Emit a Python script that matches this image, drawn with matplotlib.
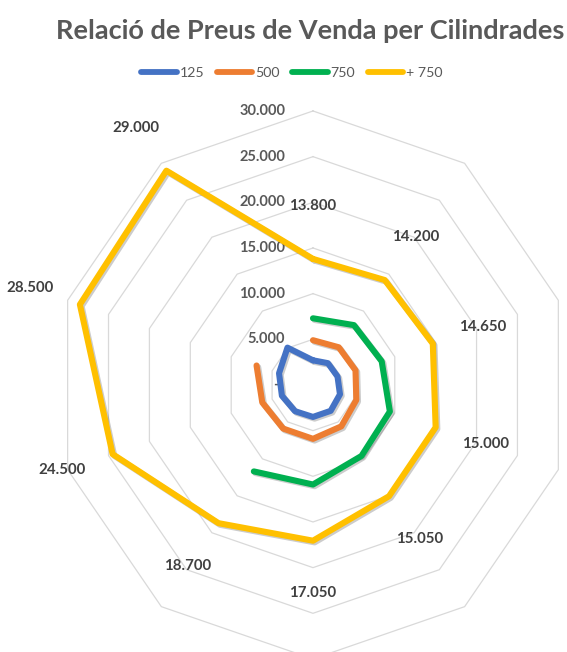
import numpy as np
import matplotlib
matplotlib.use("Agg")
import matplotlib.pyplot as plt
import matplotlib.patheffects as pe

TITLE = "Relació de Preus de Venda per Cilindrades"
SERIES = ["125", "500", "750", "+ 750"]
COLORS = ["#4472C4", "#ED7D31", "#00B050", "#FFC000"]

# ten categories, clockwise from the top
cc125 = [2700, 2950, 3000, 3300, 3500, 3500, 3550, 3800, 4150, 5050]
cc500 = [4900, 5100, 5200, 5300, 5600, 5900, 5900, 6200, 6900, np.nan]
cc750 = [7300, 8100, 8400, 9400, 9600, 10900, 11700, np.nan, np.nan, np.nan]
cc_big = [13800, 14200, 14650, 15000, 15050, 17050, 18700, 24500, 28500, 29000]

RINGS = [5000, 10000, 15000, 20000, 25000, 30000]
RING_LABELS = ["5.000", "10.000", "15.000", "20.000", "25.000", "30.000"]


def fmt(v):
    return f"{v:,.0f}".replace(",", ".")


fig = plt.figure(figsize=(5.67, 6.52), dpi=100)
ax = fig.add_axes([0.097, -0.0107, 0.910, 0.8405], projection="polar")
ax.set_aspect("auto")
ax.set_theta_zero_location("N")
ax.set_theta_direction(-1)
ax.set_ylim(0, 30000)
ax.grid(False)
ax.set_xticks([])
ax.set_yticks([])
ax.spines["polar"].set_visible(False)
ax.patch.set_alpha(0)

n = len(cc_big)
angles = np.linspace(0, 2 * np.pi, n, endpoint=False)
closed = np.append(angles, angles[0])

# decagon rings
for r in RINGS:
    ax.plot(closed, [r] * (n + 1), color="#d9d9d9", lw=0.9, zorder=1, clip_on=False)

# radial value labels on the top axis
gray = "#595959"
ax.annotate("-", (0, 0), xytext=(-25, 0), textcoords="offset points",
            ha="right", va="center", fontsize=10.5, color=gray,
            fontweight="bold", family="Lato")
for r, lab in zip(RINGS, RING_LABELS):
    ax.annotate(lab, (0, r), xytext=(-20, 0), textcoords="offset points",
                ha="right", va="center", fontsize=10.5, color=gray,
                fontweight="bold", family="Lato", zorder=2)

shadow = [pe.SimpleLineShadow(offset=(1.2, -1.2), alpha=0.2), pe.Normal()]
handles = []
for vals, name, col in zip([cc125, cc500, cc750, cc_big], SERIES, COLORS):
    v = np.append(vals, vals[0])
    (line,) = ax.plot(closed, v, color=col, lw=4.4, label=name, zorder=3,
                      solid_joinstyle="round", solid_capstyle="round",
                      path_effects=shadow, clip_on=False)
    handles.append(line)

# data labels on the largest series
for a, v in zip(angles, cc_big):
    dx = 38 * np.sin(a)
    dy = 38 * np.cos(a)
    ax.annotate(fmt(v), (a, v), xytext=(dx, dy), textcoords="offset points",
                ha="center", va="center", fontsize=10.8, color="#404040",
                fontweight="bold", family="Lato", zorder=4)

fig.text(310 / 567, 1 - 31 / 652, TITLE, ha="center", va="center",
         fontsize=19.5, fontweight="bold", color=gray, family="Lato")

leg = fig.legend(handles=handles, loc="center", bbox_to_anchor=(292 / 567, 1 - 73 / 652),
                 ncol=4, frameon=False, handlelength=2.5, handletextpad=0.2,
                 columnspacing=0.9, prop={"family": "Lato", "size": 10.2})
for t in leg.get_texts():
    t.set_color(gray)
for h in leg.legend_handles:
    h.set_path_effects([])
    h.set_linewidth(4.2)

fig.savefig("out.png", dpi=100)
